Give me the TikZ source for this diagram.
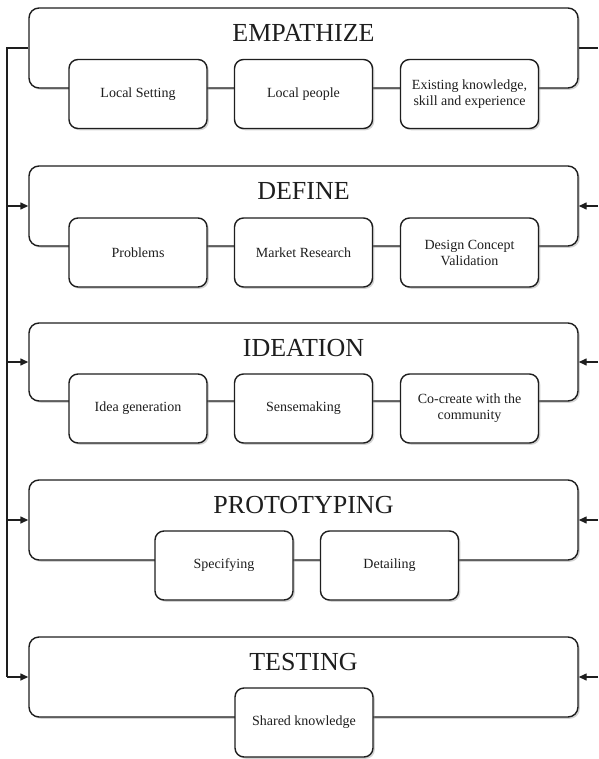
\documentclass[tikz,border=0pt]{standalone}
\usepackage{fontspec}
\setmainfont{Liberation Serif}
\usetikzlibrary{arrows.meta,positioning,shadows,calc}
\definecolor{ink}{RGB}{30,30,30}
\tikzset{
  >={Triangle[length=8pt,width=7pt]},
  stage/.style={draw=ink,fill=white,line width=1.4pt,rounded corners=10pt,
    minimum width=549pt,minimum height=80pt,
    drop shadow={shadow xshift=1.8pt,shadow yshift=-1.8pt,opacity=0.35}},
  task/.style={draw=ink,fill=white,line width=1.4pt,rounded corners=9pt,
    minimum width=138pt,minimum height=69pt,align=center,text=ink,
    font=\fontsize{14}{16}\selectfont,
    drop shadow={shadow xshift=1.8pt,shadow yshift=-1.8pt,opacity=0.35}},
  title/.style={font=\fontsize{26}{30}\selectfont,text=ink},
  flow/.style={->,line width=1.4pt,draw=ink},
  wire/.style={line width=1.4pt,draw=ink},
}

\begin{document}
\begin{tikzpicture}[x=1pt,y=-1pt]
  \useasboundingbox (0,0) rectangle (598,759);
  % stages
  \node[stage] (emp) at (303.5,48) {};
  \node[stage] (def) at (303.5,206) {};
  \node[stage,minimum height=78pt] (ide) at (303.5,362) {};
  \node[stage] (pro) at (303.5,520) {};
  \node[stage] (tst) at (303.5,677) {};
  \node[title] (empT) at (303.5,33) {EMPATHIZE};
  \node[title] (defT) at (303.5,191) {DEFINE};
  \node[title] (ideT) at (303.5,348) {IDEATION};
  \node[title] (proT) at (303.5,505) {PROTOTYPING};
  \node[title] (tstT) at (303.5,662) {TESTING};
  % empathize
  \node[task] (emp1) at (138,94) {Local Setting};
  \node[task] (emp2) at (303.5,94) {Local people};
  \node[task] (emp3) at (469.5,94) {Existing knowledge,\\skill and experience};
  % define
  \node[task] (def1) at (138,252.5) {Problems};
  \node[task] (def2) at (303.5,252.5) {Market Research};
  \node[task] (def3) at (469.5,252.5) {Design Concept\\Validation};
  % ideation
  \node[task] (ide1) at (138,408.5) {Idea generation};
  \node[task] (ide2) at (303.5,408.5) {Sensemaking};
  \node[task] (ide3) at (469.5,408.5) {Co-create with the\\community};
  % prototyping
  \node[task] (pro1) at (224,565.5) {Specifying};
  \node[task] (pro2) at (389.5,565.5) {Detailing};
  % testing
  \node[task] (tst1) at (304,722.5) {Shared knowledge};
  % left loop
  \coordinate (lbus) at (7,48);
  \draw[wire] (emp.west) -- (lbus) -- (lbus |- tst.west);
  \foreach \s in {def,ide,pro,tst}
    \draw[flow] (lbus |- \s.west) -- (\s.west);
  % right loop
  \coordinate (rbus) at (598,48);
  \draw[wire] (emp.east) -- (rbus);
  \foreach \s in {def,ide,pro,tst}
    \draw[flow] (rbus |- \s.east) -- (\s.east);
\end{tikzpicture}
\end{document}
